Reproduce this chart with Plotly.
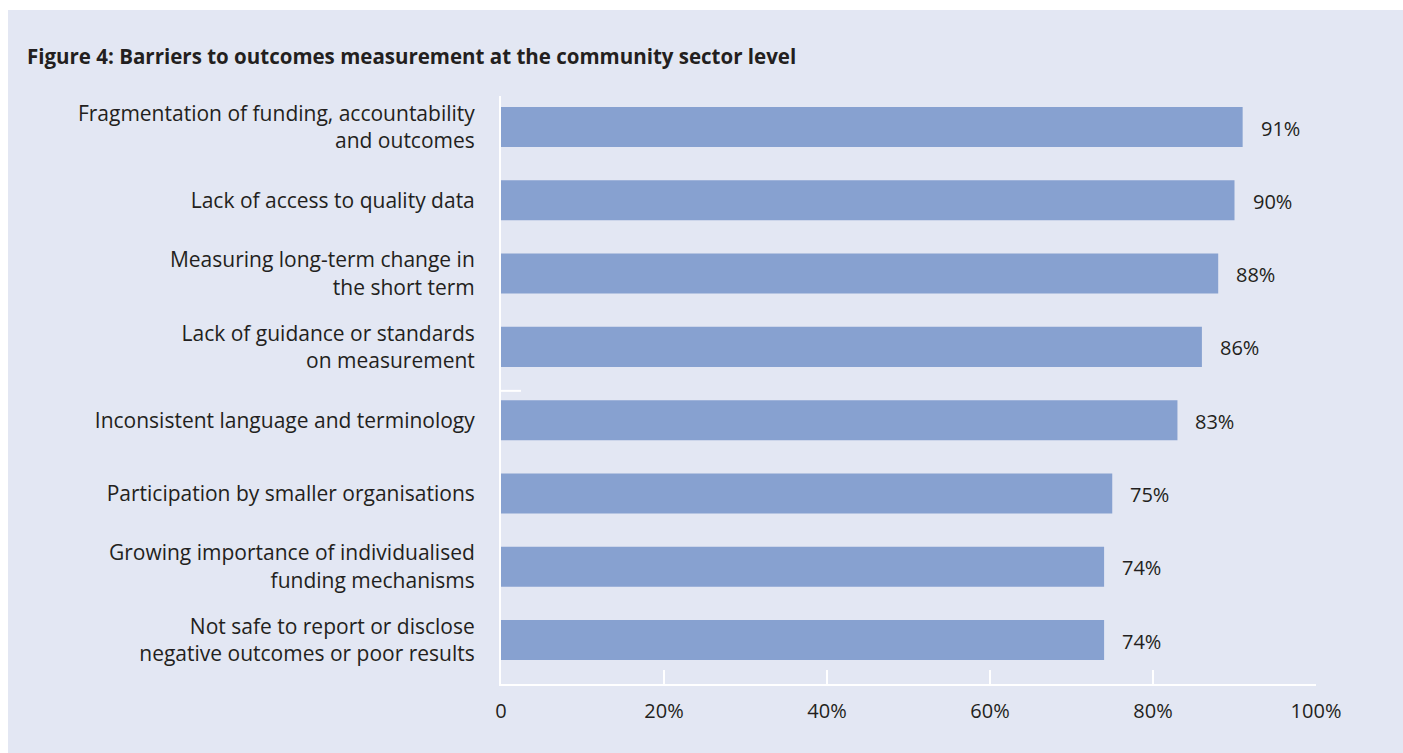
import plotly.graph_objects as go

categories = [
    "Fragmentation of funding, accountability<br>and outcomes",
    "Lack of access to quality data",
    "Measuring long-term change in<br>the short term",
    "Lack of guidance or standards<br>on measurement",
    "Inconsistent language and terminology",
    "Participation by smaller organisations",
    "Growing importance of individualised<br>funding mechanisms",
    "Not safe to report or disclose<br>negative outcomes or poor results",
]
values = [91, 90, 88, 86, 83, 75, 74, 74]
x_tickvals = [0, 20, 40, 60, 80, 100]
x_ticktext = ["0", "20%", "40%", "60%", "80%", "100%"]
title_text = "Figure 4: Barriers to outcomes measurement at the community sector level"

W, H = 1403, 753
L, R, T, B = 501, W - 1316, 96, H - 684
PW, PH = W - L - R, H - T - B

BG = "#e3e7f3"
BAR = "#87a1d0"
TXT = "#231f20"
FONT = "Open Sans"

idx = list(range(len(categories)))

fig = go.Figure()
fig.add_trace(go.Bar(
    x=values, y=idx, orientation="h",
    marker=dict(color=BAR, line=dict(width=0)),
    width=0.546, hoverinfo="skip",
))

annotations = []
for i, v in zip(idx, values):
    annotations.append(dict(
        x=v, y=i, xref="x", yref="y", text=f"{v}%", showarrow=False,
        xanchor="left", yanchor="middle", xshift=16, yshift=-1,
        font=dict(family=FONT, size=20, color=TXT),
    ))
annotations.append(dict(
    x=(25 - L) / PW, y=1 + (T - 56) / PH, xref="paper", yref="paper",
    text=f"<b>{title_text}</b>", showarrow=False, xanchor="left", yanchor="middle",
    font=dict(family=FONT, size=20.5, color=TXT),
))

shapes = [
    dict(type="rect", xref="paper", yref="paper", layer="below",
         x0=(8 - L) / PW, x1=(W - L) / PW, y0=-B / PH, y1=1 + (T - 10) / PH,
         fillcolor=BG, line=dict(width=0)),
    dict(type="line", xref="x", yref="y", layer="above",
         x0=0, x1=20 / PW * 100, y0=3.6, y1=3.6,
         line=dict(color="white", width=2)),
]

fig.update_layout(
    width=W, height=H,
    margin=dict(l=L, r=R, t=T, b=B, pad=0),
    paper_bgcolor="white", plot_bgcolor="rgba(0,0,0,0)",
    showlegend=False,
    annotations=annotations, shapes=shapes,
    font=dict(family=FONT, size=20, color=TXT),
    xaxis=dict(
        range=[0, 100], tickvals=x_tickvals, ticktext=x_ticktext,
        showgrid=False, zeroline=False,
        showline=True, linecolor="white", linewidth=2,
        ticks="inside", ticklen=14, tickcolor="white", tickwidth=2,
        tickfont=dict(family=FONT, size=20, color=TXT),
        ticklabelstandoff=8, fixedrange=True,
    ),
    yaxis=dict(
        range=[7.6, -0.423], tickvals=idx, ticktext=categories,
        showgrid=False, zeroline=False,
        showline=True, linecolor="white", linewidth=2,
        ticks="", tickfont=dict(family=FONT, size=21, color=TXT),
        ticklabelstandoff=20, fixedrange=True,
    ),
)

fig.write_html(
    "out.html",
    config={"displayModeBar": False},
    post_script="document.body.style.margin='0';document.body.style.overflow='hidden';",
)
